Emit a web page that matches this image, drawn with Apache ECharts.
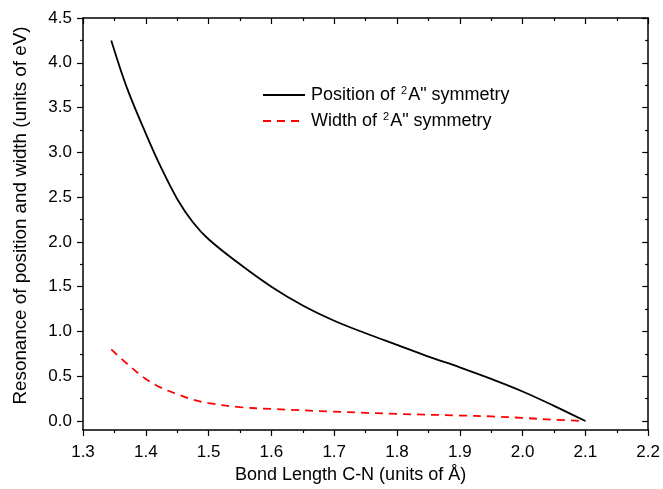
<!DOCTYPE html>
<html>
<head>
<meta charset="utf-8">
<script src="https://cdn.jsdelivr.net/npm/echarts@6/dist/echarts.min.js"></script>
<style>
  html, body { margin: 0; padding: 0; background: #fff; }
  #chart { width: 663px; height: 489px; }
</style>
</head>
<body>
<div id="chart"></div>
<script>
// Bond length C-N (Å) and resonance data (eV)
const positionX = [1.345, 1.37, 1.4, 1.425, 1.45, 1.475, 1.5, 1.55, 1.6, 1.65, 1.7, 1.75, 1.8, 1.85, 1.9, 1.95, 2.0, 2.05, 2.1];
const positionY = [4.25, 3.72, 3.21, 2.82, 2.48, 2.22, 2.03, 1.75, 1.50, 1.29, 1.12, 0.98, 0.85, 0.72, 0.60, 0.47, 0.33, 0.17, 0.0];

const widthX = [1.345, 1.37, 1.4, 1.425, 1.45, 1.475, 1.5, 1.55, 1.6, 1.7, 1.8, 1.9, 1.95, 2.0, 2.05, 2.1];
const widthY = [0.80, 0.64, 0.47, 0.37, 0.30, 0.24, 0.20, 0.155, 0.135, 0.105, 0.080, 0.062, 0.052, 0.035, 0.015, 0.0];

const yMajorTicks = [0, 0.5, 1, 1.5, 2, 2.5, 3, 3.5, 4, 4.5];
const yMinorTicks = [0.25, 0.75, 1.25, 1.75, 2.25, 2.75, 3.25, 3.75, 4.25];

const seriesNames = ['Position', 'Width'];
const legendLabels = {
  Position: '{t|Position of }{sup|2}{t|A" symmetry}',
  Width: '{t|Width of }{sup|2}{t|A" symmetry}'
};

const pairs = (xs, ys) => xs.map((x, i) => [x, ys[i]]);

const FONT = 'Liberation Sans, Arial, sans-serif';
const axisLineStyle = { color: '#000', width: 1.5 };
const tickLine = { color: '#000', width: 1.2 };

const chart = echarts.init(document.getElementById('chart'), null, { renderer: 'canvas' });

const xBase = {
  type: 'value', min: 1.3, max: 2.2, interval: 0.1,
  axisLine: { show: true, onZero: false, lineStyle: axisLineStyle },
  splitLine: { show: false }
};
const yBase = {
  type: 'value', min: -0.1, max: 4.5,
  axisLine: { show: true, onZero: false, lineStyle: axisLineStyle },
  splitLine: { show: false },
  axisLabel: { show: false }
};

chart.setOption({
  animation: false,
  backgroundColor: '#fff',
  grid: { left: 83, right: 14, top: 18, bottom: 58, containLabel: false },
  legend: {
    left: 257, top: 80, orient: 'vertical',
    itemWidth: 42, itemHeight: 14, itemGap: 7,
    data: seriesNames,
    itemStyle: { opacity: 0 },
    formatter: name => legendLabels[name],
    textStyle: {
      fontFamily: FONT, fontSize: 18, color: '#000', padding: [0, 0, 0, 1],
      rich: {
        t: { fontFamily: FONT, fontSize: 18, lineHeight: 20, color: '#000' },
        sup: { fontFamily: FONT, fontSize: 11, lineHeight: 20, color: '#000', verticalAlign: 'top', padding: [0, 1, 8, 1] }
      }
    }
  },
  xAxis: [
    Object.assign({}, xBase, {
      position: 'bottom',
      name: 'Bond Length C-N (units of Å)', nameLocation: 'middle', nameGap: 36,
      nameTextStyle: { fontFamily: FONT, fontSize: 18, color: '#000', padding: [0, 30, 0, 0] },
      axisTick: { show: true, inside: false, length: 6, lineStyle: tickLine },
      minorTick: { show: true, splitNumber: 2, length: 3, lineStyle: tickLine },
      axisLabel: { show: true, margin: 14, fontFamily: FONT, fontSize: 17, color: '#000',
        formatter: v => v.toFixed(1) }
    }),
    Object.assign({}, xBase, {
      position: 'top',
      axisTick: { show: true, inside: true, length: 6, lineStyle: tickLine },
      minorTick: { show: true, splitNumber: 2, length: 3, lineStyle: tickLine },
      axisLabel: { show: false }
    })
  ],
  yAxis: [
    Object.assign({}, yBase, {
      position: 'left',
      name: 'Resonance of position and width (units of eV)', nameLocation: 'middle', nameGap: 53,
      nameTextStyle: { fontFamily: FONT, fontSize: 18.8, color: '#000', padding: [0, 0, 0, 17] },
      axisTick: { show: true, inside: false, length: 6, customValues: yMajorTicks, lineStyle: tickLine },
      axisLabel: { show: true, margin: 11, fontFamily: FONT, fontSize: 17, color: '#000',
        customValues: yMajorTicks, formatter: v => v.toFixed(1) }
    }),
    Object.assign({}, yBase, {
      position: 'left',
      axisLine: { show: false },
      axisTick: { show: true, inside: false, length: 3, customValues: yMinorTicks, lineStyle: tickLine }
    }),
    Object.assign({}, yBase, {
      position: 'right',
      axisTick: { show: true, inside: true, length: 6, customValues: yMajorTicks, lineStyle: tickLine }
    }),
    Object.assign({}, yBase, {
      position: 'right',
      axisLine: { show: false },
      axisTick: { show: true, inside: true, length: 3, customValues: yMinorTicks, lineStyle: tickLine }
    })
  ],
  series: [
    {
      name: seriesNames[0], type: 'line', xAxisIndex: 0, yAxisIndex: 0,
      data: pairs(positionX, positionY), smooth: 0.35, showSymbol: false, symbol: 'none',
      lineStyle: { color: '#000', width: 1.8 }, itemStyle: { color: '#000' }
    },
    {
      name: seriesNames[1], type: 'line', xAxisIndex: 0, yAxisIndex: 0,
      data: pairs(widthX, widthY), smooth: 0.35, showSymbol: false, symbol: 'none',
      lineStyle: { color: '#ff0000', width: 1.8, type: [8, 6] }, itemStyle: { color: '#ff0000' }
    }
  ]
});
</script>
</body>
</html>
